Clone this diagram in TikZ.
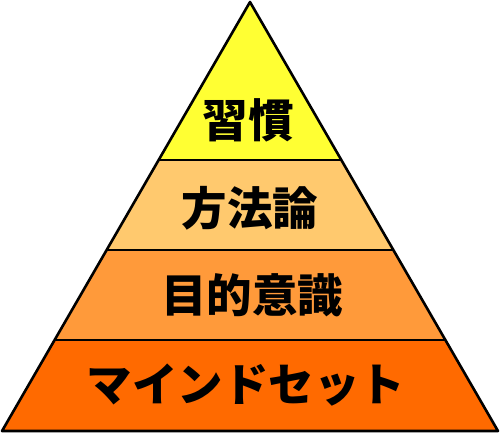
\documentclass[tikz,border=0pt]{standalone}
\usepackage{fontspec}
\newfontfamily\jp{Noto Sans CJK JP}
\definecolor{lvlA}{HTML}{FFFF33}
\definecolor{lvlB}{HTML}{FFC96E}
\definecolor{lvlC}{HTML}{FF9A3A}
\definecolor{lvlD}{HTML}{FF6A00}
\tikzset{
  label/.style={font=\jp\bfseries\fontsize{45.5}{45.5}\selectfont, text=black, inner sep=0pt},
  outline/.style={draw=black, line width=2.6pt, line join=round},
  divider/.style={draw=black, line width=1.6pt}
}
\begin{document}
\begin{tikzpicture}[x=1pt,y=-1pt]
\useasboundingbox (0,0) rectangle (500,433);
\coordinate (T) at (250,2);
\coordinate (L1) at (158.7,160); \coordinate (R1) at (341.3,160);
\coordinate (L2) at (106.6,250); \coordinate (R2) at (393.4,250);
\coordinate (L3) at (54.6,340);  \coordinate (R3) at (445.4,340);
\coordinate (L4) at (2,431);     \coordinate (R4) at (498,431);
\fill[lvlA] (T) -- (R1) -- (L1) -- cycle;
\fill[lvlB] (L1) -- (R1) -- (R2) -- (L2) -- cycle;
\fill[lvlC] (L2) -- (R2) -- (R3) -- (L3) -- cycle;
\fill[lvlD] (L3) -- (R3) -- (R4) -- (L4) -- cycle;
\draw[divider] (L1) -- (R1);
\draw[divider] (L2) -- (R2);
\draw[divider] (L3) -- (R3);
\draw[outline] (T) -- (R4) -- (L4) -- cycle;
\node[label] (n1) at (248,120) {習慣};
\node[label] (n2) at (250,208) {方法論};
\node[label] (n3) at (252,295) {目的意識};
\node[label] (n4) at (246,385) {マインドセット};
\end{tikzpicture}
\end{document}
